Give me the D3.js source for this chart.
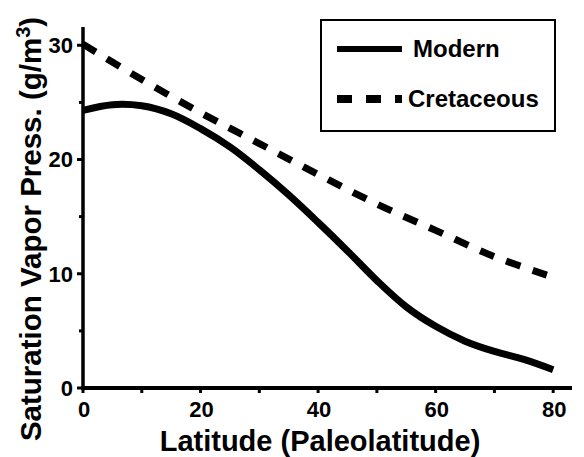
<!DOCTYPE html>
<html>
<head>
<meta charset="utf-8">
<script src="https://cdn.jsdelivr.net/npm/d3@7"></script>
<style>
  body { margin: 0; background: #fff; }
  svg text { font-family: "Liberation Sans", Arial, Helvetica, sans-serif; font-weight: bold; fill: #000; }
</style>
</head>
<body>
<div id="chart"></div>
<script>
// latitude (degrees) and saturation vapor pressure (g/m3)
var modernLat = [0, 5, 10, 15, 20, 25, 30, 35, 40, 45, 50, 55, 60, 65, 70, 75, 80];
var modernVals = [24.3, 24.8, 24.7, 24.0, 22.7, 21.1, 19.1, 16.9, 14.5, 12.0, 9.4, 7.1, 5.4, 4.1, 3.2, 2.5, 1.6];
var cretLat = [0, 10, 20, 30, 40, 50, 60, 70, 80];
var cretVals = [30.1, 27.0, 24.1, 21.4, 18.7, 16.1, 13.8, 11.5, 9.7];
var xTicks = [0, 20, 40, 60, 80];
var xMinor = [10, 30, 50, 70];
var yTicks = [0, 10, 20, 30];
var yMinor = [5, 15, 25];
var seriesNames = ["Modern", "Cretaceous"];

var width = 584, height = 457;

var svg = d3.select("#chart").append("svg")
    .attr("width", width)
    .attr("height", height);

var x = d3.scaleLinear().domain([0, 83.2]).range([83, 572]);
var y = d3.scaleLinear().domain([0, 31.6]).range([388, 27]);

// axes lines
svg.append("line")
    .attr("x1", x(0)).attr("x2", x(0))
    .attr("y1", y(0) + 2).attr("y2", y(31.6))
    .attr("stroke", "#000").attr("stroke-width", 3.5);
svg.append("line")
    .attr("x1", x(0) - 2).attr("x2", x(83.2))
    .attr("y1", y(0)).attr("y2", y(0))
    .attr("stroke", "#000").attr("stroke-width", 4);

// y ticks
svg.selectAll(".ytick").data(yTicks.concat(yMinor)).enter().append("line")
    .attr("x1", x(0)).attr("x2", function (d) { return x(0) - (yTicks.indexOf(d) >= 0 ? 6 : 4); })
    .attr("y1", function (d) { return y(d); })
    .attr("y2", function (d) { return y(d); })
    .attr("stroke", "#000").attr("stroke-width", 3);
svg.selectAll(".ylab").data(yTicks).enter().append("text")
    .attr("x", 73)
    .attr("y", function (d) { return y(d); })
    .attr("dy", "0.36em")
    .attr("text-anchor", "end")
    .style("font-size", "22px")
    .text(function (d) { return d; });

// x ticks
svg.selectAll(".xtick").data(xTicks.concat(xMinor)).enter().append("line")
    .attr("x1", function (d) { return x(d); })
    .attr("x2", function (d) { return x(d); })
    .attr("y1", y(0)).attr("y2", y(0) + 5)
    .attr("stroke", "#000").attr("stroke-width", 3);
svg.selectAll(".xlab").data(xTicks).enter().append("text")
    .attr("x", function (d) { return x(d) + 1; })
    .attr("y", 417)
    .attr("text-anchor", "middle")
    .style("font-size", "22px")
    .text(function (d) { return d; });

// axis titles
svg.append("text")
    .attr("x", 320)
    .attr("y", 451)
    .attr("text-anchor", "middle")
    .style("font-size", "29px")
    .text("Latitude (Paleolatitude)");

var yTitle = svg.append("text")
    .attr("transform", "translate(41,229) rotate(-90)")
    .attr("text-anchor", "middle")
    .style("font-size", "29.5px");
yTitle.append("tspan").text("Saturation Vapor Press. (g/m");
yTitle.append("tspan").attr("baseline-shift", "super").style("font-size", "20px").text("3");
yTitle.append("tspan").text(")");

// series
var line = d3.line()
    .x(function (d) { return x(d[0]); })
    .y(function (d) { return y(d[1]); })
    .curve(d3.curveCatmullRom.alpha(0.5));

svg.append("path")
    .datum(d3.zip(modernLat, modernVals))
    .attr("d", line)
    .attr("fill", "none")
    .attr("stroke", "#000")
    .attr("stroke-width", 7);

svg.append("path")
    .datum(d3.zip(cretLat, cretVals))
    .attr("d", line)
    .attr("fill", "none")
    .attr("stroke", "#000")
    .attr("stroke-width", 7)
    .attr("stroke-dasharray", "15,13");

// legend
var legend = svg.append("g");
legend.append("rect")
    .attr("x", 321).attr("y", 20)
    .attr("width", 234).attr("height", 111)
    .attr("fill", "#fff")
    .attr("stroke", "#000").attr("stroke-width", 2);

legend.selectAll(".lline").data(seriesNames).enter().append("line")
    .attr("x1", 337).attr("x2", 402)
    .attr("y1", function (d, i) { return 49 + i * 50; })
    .attr("y2", function (d, i) { return 49 + i * 50; })
    .attr("stroke", "#000")
    .attr("stroke-width", function (d, i) { return i ? 8 : 6; })
    .attr("stroke-dasharray", function (d, i) { return i ? "15,14" : null; });

legend.selectAll(".ltext").data(seriesNames).enter().append("text")
    .attr("x", function (d, i) { return i ? 408 : 413; })
    .attr("y", function (d, i) { return 57 + i * 50; })
    .style("font-size", "24px")
    .text(function (d) { return d; });
</script>
</body>
</html>
